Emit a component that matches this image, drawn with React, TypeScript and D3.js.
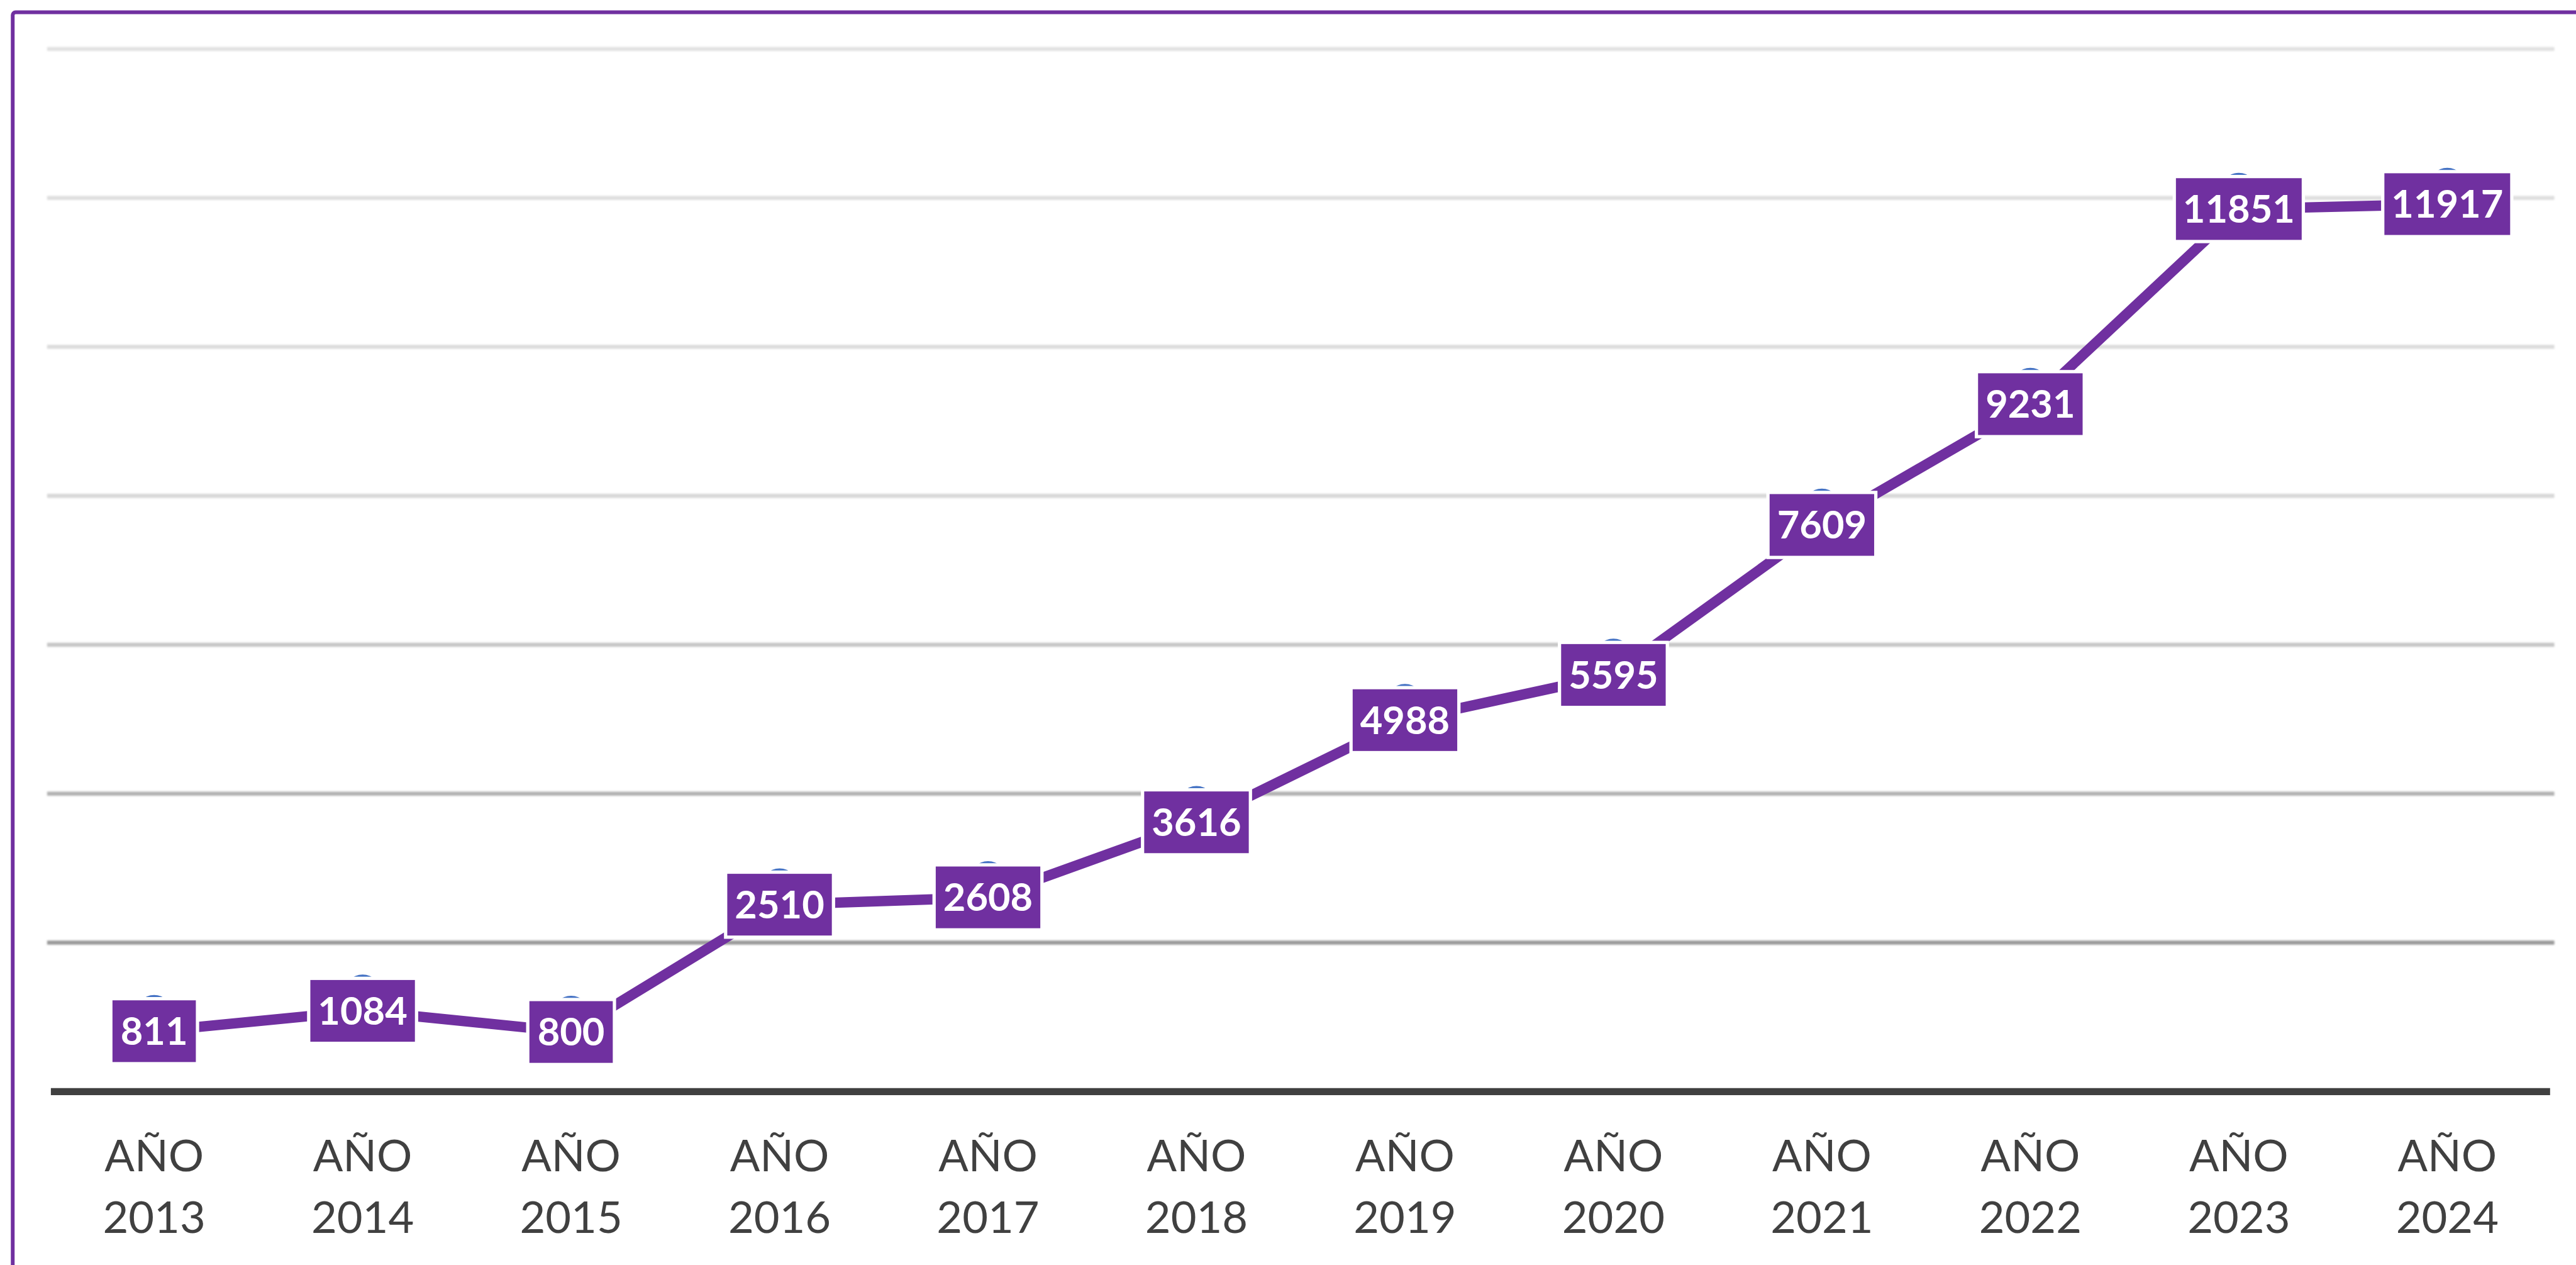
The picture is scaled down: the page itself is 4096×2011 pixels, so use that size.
import React from "react";
import * as d3 from "d3";

// ---- data ----
const years: string[] = ["2013", "2014", "2015", "2016", "2017", "2018", "2019", "2020", "2021", "2022", "2023", "2024"];
const categoryPrefix = "AÑO";
const values: number[] = [811, 1084, 800, 2510, 2608, 3616, 4988, 5595, 7609, 9231, 11851, 11917];
const gridValues: number[] = [2000, 4000, 6000, 8000, 10000, 12000, 14000];
const yMax = 14000;

// ---- layout (reference px scaled) ----
const S = 4096 / 5469;
const W = 4096;
const H = 2011;

const PURPLE = "#7030A0";
const MARKER = "#4472C4";
const TEXT = "#404040";

export default function App() {
  const x = d3.scaleBand<string>().domain(years).range([106 * S, 5417 * S]);
  const y = d3.scaleLinear().domain([0, yMax]).range([2317 * S, 104 * S]);
  const cx = (i: number) => (x(years[i]) as number) + x.bandwidth() / 2;

  const gridColor = d3
    .scaleLinear<string>()
    .domain([2000, 4000, 6000, 8000, 14000])
    .range(["#9a9a9a", "#b2b2b2", "#c6c6c6", "#d8d8d8", "#e1e1e1"]);

  const linePath = d3
    .line<number>()
    .x((_, i) => cx(i))
    .y((d) => y(d))(values) as string;

  const labelFont = 82 * S;
  const axisFont = 94 * S;
  const boxH = 131 * S;
  const boxW = (n: number) => (42 + n * 45) * S;
  const halo = 7 * S;

  const axisY = y(0);

  return (
    <svg
      width={W}
      height={H}
      viewBox={`0 0 ${W} ${H}`}
      style={{ position: "absolute", left: 0, top: 0, display: "block", background: "#ffffff" }}
    >
      <defs>
        <filter id="gblur" x="-1%" y="-200%" width="102%" height="500%">
          <feGaussianBlur stdDeviation={1.6} />
        </filter>
      </defs>
      <rect x={0} y={0} width={W} height={H} fill="#ffffff" />

      {/* gridlines */}
      <g filter="url(#gblur)">
        {gridValues.map((g) => (
          <line
            key={g}
            x1={100 * S}
            x2={5423 * S}
            y1={y(g)}
            y2={y(g)}
            stroke={gridColor(g)}
            strokeWidth={8.5 * S}
          />
        ))}
      </g>

      {/* x axis line */}
      <line x1={108 * S} x2={5414 * S} y1={axisY} y2={axisY} stroke={TEXT} strokeWidth={15 * S} />

      {/* series line */}
      <path d={linePath} fill="none" stroke={PURPLE} strokeWidth={22 * S} strokeLinejoin="miter" />

      {/* markers (mostly hidden behind labels) */}
      {values.map((v, i) => (
        <circle key={"m" + i} cx={cx(i)} cy={y(v) - 37 * S} r={40 * S} fill={MARKER} />
      ))}

      {/* data labels */}
      {values.map((v, i) => {
        const t = String(v);
        const w = boxW(t.length);
        const px = cx(i);
        const py = y(v);
        return (
          <g key={"l" + i}>
            <rect
              x={px - w / 2 - halo}
              y={py - boxH / 2 - halo}
              width={w + 2 * halo}
              height={boxH + 2 * halo}
              fill="#ffffff"
            />
            <rect x={px - w / 2} y={py - boxH / 2} width={w} height={boxH} fill={PURPLE} />
            <text
              x={px}
              y={py + 0.355 * labelFont}
              textAnchor="middle"
              fontFamily="Lato, 'Open Sans', sans-serif"
              fontWeight={700}
              fontSize={labelFont}
              fill="#ffffff"
            >
              {t}
            </text>
          </g>
        );
      })}

      {/* x axis labels */}
      {years.map((yr, i) => (
        <text
          key={"x" + yr}
          textAnchor="middle"
          fontFamily="Lato, 'Open Sans', sans-serif"
          fontSize={axisFont}
          fill={TEXT}
        >
          <tspan x={cx(i)} y={axisY + 169 * S}>
            {categoryPrefix}
          </tspan>
          <tspan x={cx(i)} y={axisY + 300 * S}>
            {yr}
          </tspan>
        </text>
      ))}

      {/* chart border (only top and left edges fall inside the picture) */}
      <rect
        x={27 * S}
        y={26 * S}
        width={W * 2}
        height={H * 2}
        rx={6 * S}
        fill="none"
        stroke={PURPLE}
        strokeWidth={8 * S}
      />
    </svg>
  );
}
